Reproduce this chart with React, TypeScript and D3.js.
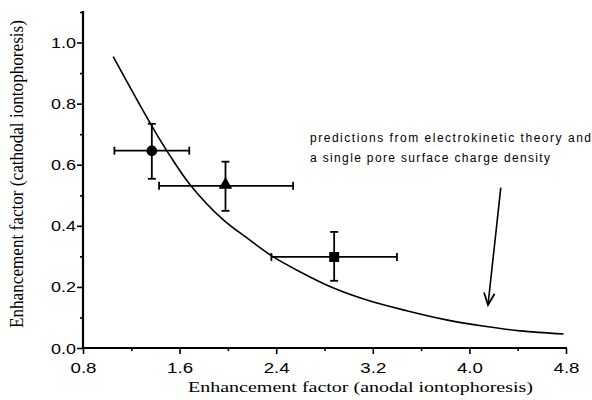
import { useEffect, useRef } from 'react';
import * as d3 from 'd3';

// measured points (anodal vs cathodal enhancement)
const markers = ['circle', 'triangle', 'square'];
const xMean = [1.37, 1.98, 2.88];
const yMean = [0.646, 0.531, 0.298];
const xLow = [1.06, 1.43, 2.36];
const xHigh = [1.68, 2.54, 3.4];
const yLow = [0.554, 0.449, 0.22];
const yHigh = [0.734, 0.61, 0.38];

// theory curve
const theoryX = [1.05, 1.38, 1.52, 1.69, 1.96, 2.18, 2.37, 2.6, 2.87, 3.15, 3.48, 3.81, 4.11, 4.42, 4.78];
const theoryY = [0.954, 0.72, 0.63, 0.533, 0.42, 0.354, 0.3, 0.249, 0.197, 0.157, 0.122, 0.092, 0.072, 0.056, 0.046];

const xTicks = [0.8, 1.6, 2.4, 3.2, 4.0, 4.8];
const yTicks = [0, 0.2, 0.4, 0.6, 0.8, 1.0];
const noteLines = [
  'predictions from electrokinetic theory and',
  'a single pore surface charge density',
];

const W = 592;
const H = 400;

export default function App() {
  const svgRef = useRef<SVGSVGElement>(null);

  useEffect(() => {
    if (!svgRef.current) return;
    const svg = d3.select(svgRef.current);
    svg.selectAll('*').remove();

    const x = d3.scaleLinear().domain([0.8, 4.8]).range([83, 566]);
    const y = d3.scaleLinear().domain([0, 1.1]).range([348, 12]);
    const sans = 'Liberation Sans, Arial, Helvetica, sans-serif';
    const serif = 'Liberation Serif, Times New Roman, serif';

    // x axis
    const gx = svg.append('g').attr('transform', `translate(0,${y(0)})`);
    gx.call(d3.axisBottom(x).tickValues(d3.range(1.2, 4.5, 0.8)).tickSize(3).tickFormat(() => ''))
      .call(g => g.select('.domain').remove());
    gx.append('g')
      .call(d3.axisBottom(x).tickValues(xTicks).tickSize(6).tickSizeOuter(0).tickFormat(d3.format('.1f')))
      .call(g => g.select('.domain').remove())
      .selectAll('text')
      .attr('y', 25)
      .attr('dy', 0)
      .attr('textLength', 26)
      .attr('lengthAdjust', 'spacingAndGlyphs')
      .style('font-family', sans)
      .style('font-size', '14px')
      .style('fill', '#000');
    gx.selectAll('line').attr('stroke', '#000').attr('stroke-width', 1.6);
    gx.append('line')
      .attr('x1', x(0.8) - 1).attr('x2', x(4.8) + 1)
      .attr('stroke', '#000').attr('stroke-width', 2.2);

    // y axis
    const gy = svg.append('g').attr('transform', `translate(${x(0.8)},0)`);
    gy.call(d3.axisLeft(y).tickValues(d3.range(0.1, 1.15, 0.2)).tickSize(3).tickFormat(() => ''))
      .call(g => g.select('.domain').remove());
    gy.append('g')
      .call(d3.axisLeft(y).tickValues(yTicks).tickSize(6).tickSizeOuter(0).tickFormat(d3.format('.1f')))
      .call(g => g.select('.domain').remove())
      .selectAll('text')
      .attr('x', -7)
      .attr('dy', '0.36em')
      .attr('textLength', 25)
      .attr('lengthAdjust', 'spacingAndGlyphs')
      .style('font-family', sans)
      .style('font-size', '14px')
      .style('fill', '#000');
    gy.selectAll('line').attr('stroke', '#000').attr('stroke-width', 1.6);
    gy.append('line')
      .attr('y1', y(0) + 1).attr('y2', y(1.1) - 1)
      .attr('stroke', '#000').attr('stroke-width', 2.2);

    // axis titles
    svg.append('text')
      .attr('x', 188).attr('y', 392)
      .attr('textLength', 345)
      .attr('lengthAdjust', 'spacingAndGlyphs')
      .style('font-family', serif)
      .style('font-size', '15px')
      .text('Enhancement factor (anodal iontophoresis)');

    svg.append('text')
      .attr('transform', 'translate(23,174) rotate(-90) scale(1,1.25)')
      .attr('text-anchor', 'middle')
      .attr('textLength', 308)
      .attr('lengthAdjust', 'spacingAndGlyphs')
      .style('font-family', serif)
      .style('font-size', '15px')
      .text('Enhancement factor (cathodal iontophoresis)');

    // theory curve
    const line = d3.line<number>()
      .x(i => x(theoryX[i]))
      .y(i => y(theoryY[i]))
      .curve(d3.curveCatmullRom.alpha(0.5));
    svg.append('path')
      .attr('d', line(d3.range(theoryX.length)))
      .attr('fill', 'none')
      .attr('stroke', '#000')
      .attr('stroke-width', 1.6);

    // error bars + markers
    const cap = 4;
    markers.forEach((m, i) => {
      const g = svg.append('g').attr('stroke', '#000').attr('stroke-width', 1.8);
      const cx = x(xMean[i]);
      const cy = y(yMean[i]);
      g.append('line').attr('x1', x(xLow[i])).attr('x2', x(xHigh[i])).attr('y1', cy).attr('y2', cy);
      g.append('line').attr('x1', cx).attr('x2', cx).attr('y1', y(yLow[i])).attr('y2', y(yHigh[i]));
      [xLow[i], xHigh[i]].forEach(v => {
        g.append('line').attr('x1', x(v)).attr('x2', x(v)).attr('y1', cy - cap).attr('y2', cy + cap);
      });
      [yLow[i], yHigh[i]].forEach(v => {
        g.append('line').attr('x1', cx - cap).attr('x2', cx + cap).attr('y1', y(v)).attr('y2', y(v));
      });
      const sym = m === 'circle' ? d3.symbolCircle : m === 'triangle' ? d3.symbolTriangle : d3.symbolSquare;
      const size = m === 'circle' ? 90 : m === 'triangle' ? 80 : 100;
      svg.append('path')
        .attr('transform', `translate(${cx},${m === 'triangle' ? cy - 1 : cy})`)
        .attr('d', d3.symbol().type(sym).size(size)())
        .attr('fill', '#000');
    });

    // annotation text
    const note = svg.append('text')
      .style('font-family', sans)
      .style('font-size', '12px')
      .style('fill', '#000');
    const lens = [281, 240];
    noteLines.forEach((t, i) => {
      note.append('tspan')
        .attr('x', x(2.68))
        .attr('y', y(0.675) + i * 20)
        .attr('textLength', lens[i])
        .attr('lengthAdjust', 'spacing')
        .text(t);
    });

    // arrow
    const x0 = x(4.26), y0 = y(0.525), x1 = x(4.154), y1 = y(0.141);
    const ang = Math.atan2(y1 - y0, x1 - x0);
    const hl = 13, spread = 0.42;
    svg.append('line')
      .attr('x1', x0).attr('y1', y0).attr('x2', x1).attr('y2', y1)
      .attr('stroke', '#000').attr('stroke-width', 1.6);
    svg.append('path')
      .attr('d', `M${x1 - hl * Math.cos(ang - spread)},${y1 - hl * Math.sin(ang - spread)}L${x1},${y1}L${x1 - hl * Math.cos(ang + spread)},${y1 - hl * Math.sin(ang + spread)}`)
      .attr('fill', 'none')
      .attr('stroke', '#000')
      .attr('stroke-width', 1.8);
  }, []);

  return (
    <svg
      ref={svgRef}
      width={W}
      height={H}
      style={{ position: 'absolute', left: 0, top: 0, background: '#fff', display: 'block' }}
    />
  );
}
